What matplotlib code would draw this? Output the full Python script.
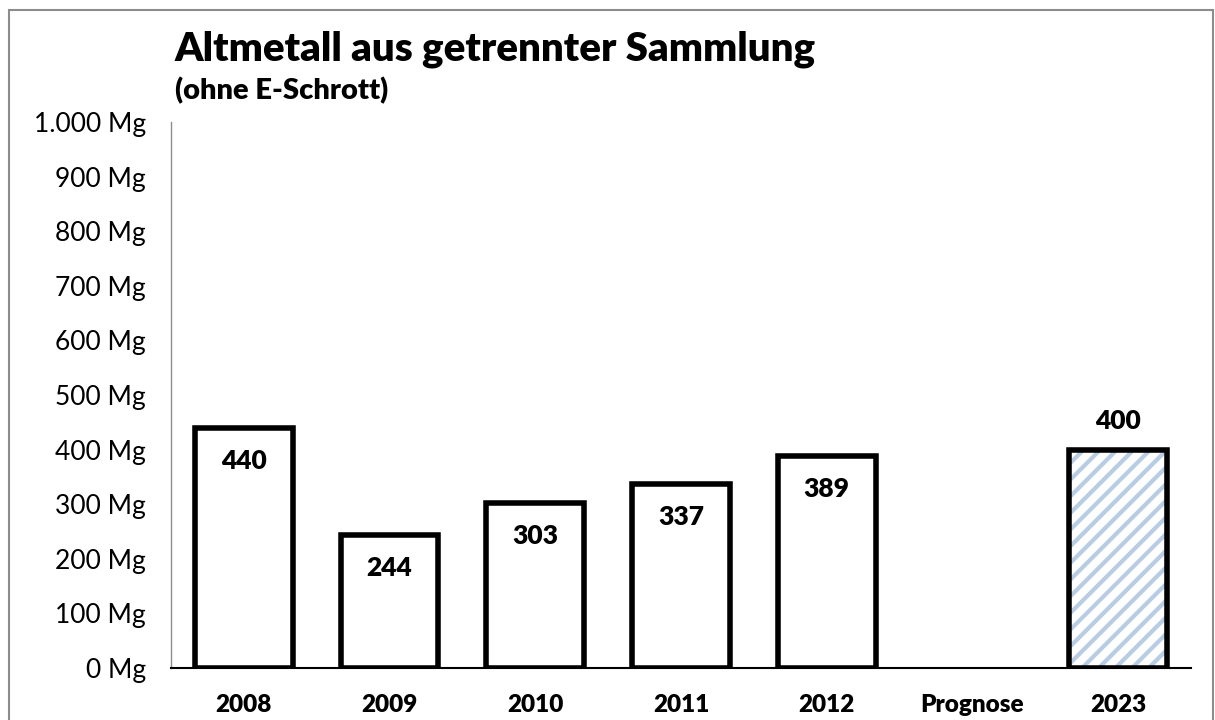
import matplotlib
matplotlib.use("Agg")
import matplotlib.pyplot as plt
from matplotlib.patches import Rectangle

plt.rcParams['font.family'] = ['Lato', 'DejaVu Sans']
plt.rcParams['hatch.linewidth'] = 3.0

categories = ["2008", "2009", "2010", "2011", "2012", "Prognose", "2023"]
values = [440, 244, 303, 337, 389, 0, 400]
is_forecast = [False, False, False, False, False, False, True]
yticks = [0, 100, 200, 300, 400, 500, 600, 700, 800, 900, 1000]
ytick_labels = ["0 Mg", "100 Mg", "200 Mg", "300 Mg", "400 Mg", "500 Mg",
                "600 Mg", "700 Mg", "800 Mg", "900 Mg", "1.000 Mg"]

fig = plt.figure(figsize=(12.15, 7.2), dpi=100)
ax = fig.add_axes([171/1215, 52/720, 1020/1215, 546/720])

# outer frame
fig.patches.append(Rectangle((9/1215, -0.1), (1213-9)/1215, (710+72)/720,
                             transform=fig.transFigure, fill=False,
                             edgecolor='#8c8c8c', linewidth=1.5))

x = list(range(len(categories)))
for i, (v, f) in enumerate(zip(values, is_forecast)):
    if v == 0:
        continue
    if f:
        ax.bar(i, v, width=0.67, facecolor='white', edgecolor='#b8cce4',
               linewidth=0, hatch='//', zorder=3)
        ax.bar(i, v, width=0.67, fill=False, edgecolor='black',
               linewidth=4, zorder=4)
        ax.annotate(str(v), (i, v), xytext=(0, 12), textcoords='offset points',
                    ha='center', va='bottom', fontsize=19, fontweight='heavy')
    else:
        ax.bar(i, v, width=0.67, facecolor='white', edgecolor='black',
               linewidth=4, zorder=3)
        ax.annotate(str(v), (i, v), xytext=(0, -24), textcoords='offset points',
                    ha='center', va='center', fontsize=19, fontweight='heavy')

ax.set_xlim(-0.5, len(categories) - 0.5)
ax.set_ylim(0, 1000)
ax.set_yticks(yticks)
ax.set_yticklabels(ytick_labels, fontsize=19)
ax.set_xticks(x)
ax.set_xticklabels(categories, fontsize=17.5, fontweight='heavy')
ax.tick_params(axis='y', length=0, pad=18)
ax.tick_params(axis='x', length=0, pad=19)
for s in ['top', 'right']:
    ax.spines[s].set_visible(False)
ax.spines['left'].set_color('#8c8c8c')
ax.spines['left'].set_linewidth(1)
ax.spines['bottom'].set_color('black')
ax.spines['bottom'].set_linewidth(1.5)

fig.text(175/1215, 1 - 49/720, "Altmetall aus getrennter Sammlung",
         fontsize=29, fontweight='heavy', va='center', ha='left')
fig.text(175/1215, 1 - 91/720, "(ohne E-Schrott)",
         fontsize=21, fontweight='heavy', va='center', ha='left')

fig.savefig("out.png", dpi=100)
